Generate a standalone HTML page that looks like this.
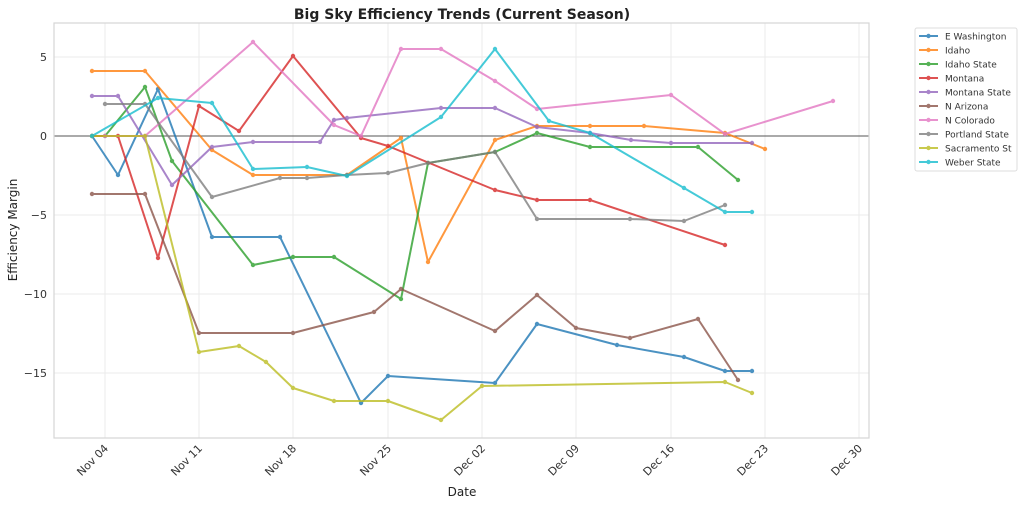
<!DOCTYPE html>
<html><head><meta charset="utf-8"><style>
body{margin:0;background:#fff;}
svg{display:block;font-family:"DejaVu Sans","Liberation Sans",sans-serif;}
</style></head><body>
<svg id="s" width="1024" height="506" xmlns="http://www.w3.org/2000/svg">
<rect width="1024" height="506" fill="#fff"/>
<g stroke="#ebebeb" stroke-width="1">
<line x1="105" y1="23" x2="105" y2="438"/><line x1="199" y1="23" x2="199" y2="438"/>
<line x1="293" y1="23" x2="293" y2="438"/><line x1="388" y1="23" x2="388" y2="438"/>
<line x1="482" y1="23" x2="482" y2="438"/><line x1="576" y1="23" x2="576" y2="438"/>
<line x1="671" y1="23" x2="671" y2="438"/><line x1="765" y1="23" x2="765" y2="438"/>
<line x1="859" y1="23" x2="859" y2="438"/>
<line x1="54" y1="57" x2="869" y2="57"/><line x1="54" y1="215" x2="869" y2="215"/>
<line x1="54" y1="294" x2="869" y2="294"/><line x1="54" y1="373" x2="869" y2="373"/>
</g>
<line x1="54" y1="136" x2="869" y2="136" stroke="#555" stroke-width="1"/>
<rect x="54" y="23" width="815" height="415" fill="none" stroke="#d6d6d6" stroke-width="1.2"/>
<g id="series"></g>
<text x="462" y="19" text-anchor="middle" font-size="14" font-weight="bold" fill="#222">Big Sky Efficiency Trends (Current Season)</text>
<g font-size="11" fill="#333" text-anchor="end">
<text x="47" y="61">5</text><text x="47" y="140">0</text><text x="47" y="219">−5</text>
<text x="47" y="298">−10</text><text x="47" y="377">−15</text>
</g>
<g font-size="11" fill="#333" text-anchor="end">
<text transform="translate(109,449) rotate(-45)">Nov 04</text>
<text transform="translate(203,449) rotate(-45)">Nov 11</text>
<text transform="translate(297,449) rotate(-45)">Nov 18</text>
<text transform="translate(392,449) rotate(-45)">Nov 25</text>
<text transform="translate(486,449) rotate(-45)">Dec 02</text>
<text transform="translate(580,449) rotate(-45)">Dec 09</text>
<text transform="translate(675,449) rotate(-45)">Dec 16</text>
<text transform="translate(769,449) rotate(-45)">Dec 23</text>
<text transform="translate(863,449) rotate(-45)">Dec 30</text>
</g>
<text x="462" y="496" text-anchor="middle" font-size="12" fill="#222">Date</text>
<text transform="translate(17,230) rotate(-90)" text-anchor="middle" font-size="12" fill="#222">Efficiency Margin</text>
<rect x="915" y="28" width="102" height="143" rx="2" fill="#fff" stroke="#ddd"/>
<g id="legend" font-size="9" fill="#333"></g>
</svg>
<script>
var S=[
["E Washington","#1f77b4",[[92,136],[118,175],[158,89],[212,237],[280,237],[361,403],[388,376],[495,383],[537,324],[617,345],[684,357],[725,371],[752,371]]],
["Idaho","#ff7f0e",[[92,71],[145,71],[212,150],[253,175],[347,175],[401,138],[428,262],[495,140],[537,126],[590,126],[644,126],[725,133],[765,149]]],
["Idaho State","#2ca02c",[[105,136],[145,87],[172,161],[253,265],[293,257],[334,257],[401,299],[428,163],[495,152],[537,133],[590,147],[698,147],[738,180]]],
["Montana","#d62728",[[92,136],[118,136],[158,258],[199,106],[239,131],[293,56],[361,138],[388,146],[495,190],[537,200],[590,200],[725,245]]],
["Montana State","#9467bd",[[92,96],[118,96],[172,185],[212,147],[253,142],[320,142],[334,120],[347,118],[441,108],[495,108],[537,127],[590,133],[631,140],[671,143],[752,143]]],
["N Arizona","#8c564b",[[92,194],[145,194],[199,333],[293,333],[374,312],[401,289],[495,331],[537,295],[576,328],[630,338],[698,319],[738,380]]],
["N Colorado","#e377c2",[[105,136],[145,136],[253,42],[334,125],[361,136],[401,49],[441,49],[495,81],[537,109],[671,95],[725,134],[833,101]]],
["Portland State","#7f7f7f",[[105,104],[145,104],[212,197],[280,178],[307,178],[347,175],[388,173],[428,163],[495,152],[537,219],[630,219],[684,221],[725,205]]],
["Sacramento St","#bcbd22",[[92,136],[145,136],[199,352],[239,346],[266,362],[293,388],[334,401],[388,401],[441,420],[482,386],[725,382],[752,393]]],
["Weber State","#17becf",[[92,136],[158,98],[212,103],[253,169],[307,167],[347,176],[441,117],[495,49],[549,121],[590,133],[684,188],[725,212],[752,212]]]
];
var NS="http://www.w3.org/2000/svg",g=document.getElementById("series"),L=document.getElementById("legend");
function el(t,a,p){var e=document.createElementNS(NS,t);for(var k in a)e.setAttribute(k,a[k]);p.appendChild(e);return e;}
S.forEach(function(s,i){
 var gg=el("g",{opacity:"0.8"},g);
 el("polyline",{points:s[2].map(function(p){return p.join(",")}).join(" "),fill:"none",stroke:s[1],"stroke-width":"2","stroke-linejoin":"round"},gg);
 s[2].forEach(function(p){el("circle",{cx:p[0],cy:p[1],r:"2.2",fill:s[1]},gg);});
 var y=36+i*14;
 var lg=el("g",{opacity:"0.8"},L);
 el("line",{x1:919,y1:y,x2:938,y2:y,stroke:s[1],"stroke-width":"2"},lg);
 el("circle",{cx:928.5,cy:y,r:"2.2",fill:s[1]},lg);
 var t=el("text",{x:945,y:y+3.5},L);t.textContent=s[0];
});
</script>
</body></html>
